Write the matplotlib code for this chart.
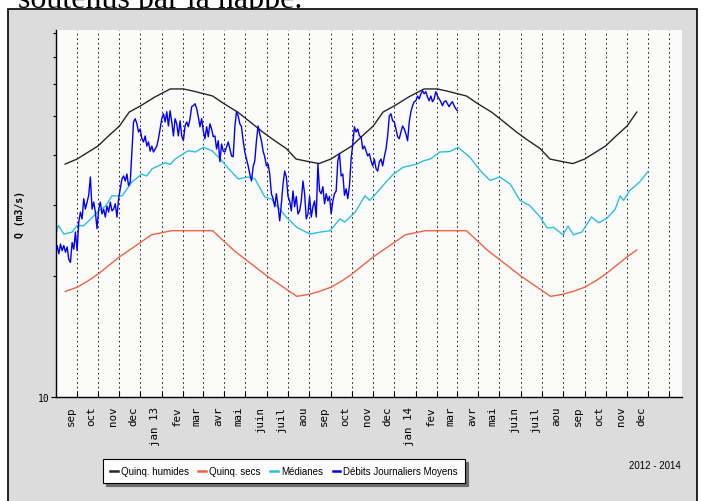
import matplotlib
matplotlib.use("Agg")
import matplotlib.pyplot as plt
import matplotlib.dates as mdates
from matplotlib.lines import Line2D
from matplotlib.patches import Rectangle
from matplotlib.ticker import FixedLocator, FixedFormatter, NullFormatter
from matplotlib.transforms import ScaledTranslation
import pandas as pd

# Quinquennales humides (m3/s)
humides_dates = [
    "2012-08-15", "2012-09-01", "2012-10-01", "2012-10-15", "2012-11-01", "2012-11-15",
    "2012-12-01", "2012-12-22", "2013-01-13", "2013-02-01", "2013-02-15", "2013-03-15",
    "2013-04-01", "2013-04-20", "2013-05-08", "2013-05-26", "2013-06-09", "2013-06-29",
    "2013-07-13", "2013-08-01", "2013-08-15", "2013-09-01", "2013-10-01", "2013-10-15",
    "2013-11-01", "2013-11-15", "2013-12-01", "2013-12-22", "2014-01-13", "2014-02-01",
    "2014-02-15", "2014-03-15", "2014-04-01", "2014-04-20", "2014-05-08", "2014-05-26",
    "2014-06-09", "2014-06-29", "2014-07-13", "2014-08-01", "2014-08-15", "2014-09-01",
    "2014-10-01", "2014-10-15", "2014-11-01", "2014-11-15",
]
humides_q = [
    37.9, 39.0, 42.0, 44.3, 47.1, 51.0,
    52.8, 55.6, 58.2, 58.2, 57.5, 55.9,
    53.4, 51.0, 48.2, 45.5, 43.7, 41.4,
    39.0, 38.4, 38.0, 39.0, 42.0, 44.3,
    47.1, 51.0, 52.8, 55.6, 58.2, 58.2,
    57.5, 55.9, 53.4, 51.0, 48.2, 45.5,
    43.7, 41.4, 39.0, 38.4, 38.0, 39.0,
    42.0, 44.3, 47.1, 51.0,
]

# Quinquennales seches (m3/s)
secs_dates = [
    "2012-08-15", "2012-09-01", "2012-09-16", "2012-10-01", "2012-11-01", "2012-12-01",
    "2012-12-17", "2013-01-15", "2013-03-15", "2013-04-15", "2013-05-01", "2013-06-01",
    "2013-07-14", "2013-07-31", "2013-08-15", "2013-09-01", "2013-09-16", "2013-10-01",
    "2013-11-01", "2013-12-01", "2013-12-17", "2014-01-15", "2014-03-15", "2014-04-15",
    "2014-05-01", "2014-06-01", "2014-07-14", "2014-07-31", "2014-08-15", "2014-09-01",
    "2014-09-16", "2014-10-01", "2014-11-01", "2014-11-15",
]
secs_q = [
    18.3, 18.75, 19.4, 20.2, 22.3, 24.2,
    25.3, 25.9, 25.9, 23.1, 22.0, 20.0,
    17.8, 18.0, 18.3, 18.75, 19.4, 20.2,
    22.3, 24.2, 25.3, 25.9, 25.9, 23.1,
    22.0, 20.0, 17.8, 18.0, 18.3, 18.75,
    19.4, 20.2, 22.3, 23.2,
]

# Medianes (m3/s)
medianes_dates = [
    "2012-08-01", "2012-08-05", "2012-08-13", "2012-08-25", "2012-09-01", "2012-09-10",
    "2012-09-18", "2012-10-02", "2012-10-12", "2012-10-21", "2012-11-05", "2012-11-12",
    "2012-11-19", "2012-12-03", "2012-12-10", "2012-12-18", "2013-01-06", "2013-01-13",
    "2013-01-20", "2013-02-01", "2013-02-08", "2013-02-18", "2013-03-02", "2013-03-14",
    "2013-03-26", "2013-04-07", "2013-04-21", "2013-05-05", "2013-05-15", "2013-05-29",
    "2013-06-08", "2013-06-15", "2013-06-29", "2013-07-14", "2013-08-02", "2013-08-17",
    "2013-08-31", "2013-09-14", "2013-09-21", "2013-10-06", "2013-10-20", "2013-10-27",
    "2013-11-11", "2013-11-20", "2013-11-30", "2013-12-14", "2014-01-03", "2014-01-12",
    "2014-01-22", "2014-02-05", "2014-02-19", "2014-03-03", "2014-03-20", "2014-04-04",
    "2014-04-18", "2014-05-02", "2014-05-17", "2014-05-31", "2014-06-14", "2014-06-29",
    "2014-07-09", "2014-07-18", "2014-08-01", "2014-08-08", "2014-08-16", "2014-08-28",
    "2014-09-11", "2014-09-21", "2014-10-03", "2014-10-15", "2014-10-22", "2014-10-27",
    "2014-11-05", "2014-11-19", "2014-12-01",
]
medianes_q = [
    25.3, 26.7, 25.4, 25.7, 26.7, 26.6,
    27.4, 29.0, 29.8, 31.6, 31.6, 32.9,
    34.2, 35.8, 35.4, 36.9, 38.2, 37.8,
    39.0, 40.2, 40.9, 40.6, 41.7, 40.9,
    39.0, 36.9, 34.8, 35.2, 34.8, 31.4,
    31.0, 29.9, 28.0, 26.4, 25.4, 25.7,
    25.9, 27.7, 27.2, 28.8, 31.6, 30.8,
    32.9, 34.3, 35.8, 37.2, 37.9, 38.6,
    39.0, 40.6, 40.7, 41.7, 39.4, 36.5,
    34.5, 35.2, 33.8, 30.8, 29.9, 28.0,
    26.3, 26.4, 25.3, 26.6, 25.3, 25.7,
    28.0, 27.1, 27.8, 29.3, 31.6, 30.8,
    32.6, 34.2, 36.3,
]

# Debits journaliers moyens (m3/s), du 01/08/2012 au 02/03/2014
debits_debut = "2012-08-01"
debits_fin = "2014-03-02"
debits_q = [
    22.9, 23.8, 22.7, 24.0, 23.1, 23.8, 22.9, 23.6, 22.0, 21.6,
    24.2, 23.3, 25.7, 23.1, 27.2, 28.8, 27.7, 31.1, 29.3, 30.5,
    31.7, 35.2, 29.3, 30.5, 28.8, 26.2, 29.3, 30.5, 28.5, 29.3,
    28.0, 29.8, 28.8, 30.5, 29.0, 29.3, 30.2, 28.0, 31.1, 32.9,
    34.8, 35.4, 34.4, 35.8, 33.5, 34.2, 40.6, 48.2, 49.1, 47.7,
    45.5, 46.3, 43.8, 43.0, 44.5, 42.0, 43.0, 40.8, 42.0, 40.6,
    41.3, 42.0, 43.8, 46.3, 49.1, 50.5, 48.2, 51.1, 47.1, 51.4,
    48.2, 44.5, 49.1, 47.7, 44.5, 48.5, 44.5, 43.3, 47.1, 48.2,
    46.9, 49.1, 52.6, 52.9, 53.5, 52.0,
    49.6, 46.9, 49.1, 45.8, 43.8, 46.9, 44.3, 47.7, 46.3, 44.3,
    44.5, 41.3, 43.3, 38.4, 42.5, 40.8, 40.6, 41.8, 43.0, 41.3,
    39.7, 39.5, 46.9, 51.1, 49.9, 47.7, 46.9, 43.3, 40.6, 39.0,
    37.5, 35.8, 34.4, 37.3, 38.6, 43.3, 47.1, 45.0, 43.3, 40.8,
    39.5, 37.5, 37.9, 35.8, 32.0, 31.1, 29.7, 32.0, 29.8, 27.4,
    30.2, 33.8, 36.4, 35.2, 31.5, 30.7, 29.0, 32.5, 29.7, 31.5,
    28.5, 29.0, 30.7, 34.4, 32.0, 27.7, 28.5, 31.5, 28.0, 29.7,
    30.7, 28.0, 37.9, 32.5, 32.0, 33.3, 30.2, 32.0, 30.7, 31.5,
    28.5, 30.7, 32.0, 32.5, 38.6, 40.2, 35.4, 35.8, 31.7, 32.9,
    31.1, 33.5, 39.0, 42.5,
    46.9, 45.5, 46.3, 44.5, 44.3, 41.3, 42.0, 40.8, 39.7, 40.2,
    38.6, 37.5, 39.0, 36.9, 36.4, 38.4, 39.0, 37.5, 39.5, 41.3,
    44.5, 49.9, 50.5, 48.5, 48.2, 46.3, 44.3, 43.8, 45.5, 47.1,
    46.3, 45.0, 43.3, 48.2, 51.1, 52.9, 54.1, 54.4, 55.9, 55.0,
    56.6, 57.6, 56.6, 57.3, 55.6, 54.4, 55.9, 54.1, 55.0, 57.3,
    55.9, 55.0, 54.1, 52.9, 54.1, 54.4, 53.5, 52.6, 53.5, 54.1,
    52.9, 52.0, 51.4,
]

# Axe des temps
mois_debut = "2012-09-01"
mois_fin = "2015-01-01"
mois_labels = [
    "sep", "oct", "nov", "dec", "jan 13", "fev", "mar", "avr", "mai", "juin", "juil", "aou",
    "sep", "oct", "nov", "dec", "jan 14", "fev", "mar", "avr", "mai", "juin", "juil", "aou",
    "sep", "oct", "nov", "dec", "",
]
y_mineurs = [20, 30, 40, 50, 60, 70, 80]

W, H = 704, 502
fig = plt.figure(figsize=(W / 100, H / 100), dpi=100)
fig.patch.set_facecolor("white")

# Texte coupe au dessus du cadre
fig.text(18 / W, 1 - 8 / H, "soutenus par la nappe.", family="Liberation Serif",
         fontsize=23, ha="left", va="baseline", zorder=-2)

# Cadre gris
cadre = Rectangle((8 / W, -0.05), (697 - 8) / W, 1.05 - 9.5 / H, transform=fig.transFigure,
                  facecolor="#dcdcdc", edgecolor="black", linewidth=1.2, zorder=-1)
fig.add_artist(cadre)

ax = fig.add_axes([55.5 / W, (H - 398.3) / H, (682 - 55.5) / W, (398.3 - 31) / H])
ax.set_facecolor("#fbfcfa")

d_hum = pd.to_datetime(humides_dates)
d_sec = pd.to_datetime(secs_dates)
d_med = pd.to_datetime(medianes_dates)
d_deb = pd.date_range(debits_debut, debits_fin, periods=len(debits_q))

c_hum, c_sec, c_med, c_deb = "#262626", "#f5603f", "#29c0ea", "#0000ff"
ax.plot(d_hum, humides_q, color=c_hum, lw=1.0)
ax.plot(d_sec, secs_q, color=c_sec, lw=1.0)
ax.plot(d_med, medianes_q, color=c_med, lw=1.0)
ax.plot(d_deb, debits_q, color=c_deb, lw=1.0)

ax.set_yscale("log")
ax.set_ylim(10, 81.5)
ax.set_xlim(pd.Timestamp("2012-08-01"), pd.Timestamp("2015-01-19"))

ax.yaxis.set_major_locator(FixedLocator([10]))
ax.yaxis.set_major_formatter(FixedFormatter(["10"]))
ax.yaxis.set_minor_locator(FixedLocator(y_mineurs))
ax.yaxis.set_minor_formatter(NullFormatter())
ax.tick_params(axis="y", which="major", direction="out", length=3.6, width=0.8, pad=1,
               labelsize=7)
ax.tick_params(axis="y", which="minor", direction="out", length=2.2, width=0.8)

mois = pd.date_range(mois_debut, mois_fin, freq="MS")
ax.xaxis.set_major_locator(FixedLocator(mdates.date2num(mois)))
ax.xaxis.set_major_formatter(FixedFormatter(mois_labels))
ax.xaxis.set_minor_locator(FixedLocator([]))
ax.tick_params(axis="x", which="major", direction="in", length=4, width=0.8, pad=6,
               labelsize=7.8, labelrotation=90)
for lab in ax.get_xticklabels() + ax.get_yticklabels():
    lab.set_family("DejaVu Sans Mono")
decal = ScaledTranslation(-6.5 / 100, 0, fig.dpi_scale_trans)
for lab in ax.get_xticklabels():
    lab.set_transform(lab.get_transform() + decal)

ax.grid(axis="x", which="major", color="black", linestyle=(0, (2, 3.5)), linewidth=0.6)
ax.set_axisbelow(True)

for s in ["top", "right"]:
    ax.spines[s].set_visible(False)
for s in ["left", "bottom"]:
    ax.spines[s].set_linewidth(1.0)
    ax.spines[s].set_color("black")

ax.set_ylabel("Q (m3/s)", family="DejaVu Sans Mono", fontweight="bold", fontsize=7)
ax.yaxis.set_label_coords(-0.048, 0.5)

# Legende
police_leg = {"family": "Liberation Sans", "size": 7}
poignees = [Line2D([], [], color=c, lw=1.8) for c in (c_hum, c_sec, c_med, c_deb)]
noms = ["Quinq. humides", "Quinq. secs", "Médianes", "Débits Journaliers Moyens"]
leg = ax.legend(poignees, noms, loc="center", bbox_to_anchor=(284 / W, 1 - 472 / H),
                bbox_transform=fig.transFigure, ncol=4, fancybox=False,
                shadow={"color": "#6e6e6e", "alpha": 1}, framealpha=1,
                edgecolor="black", handlelength=0.8, handletextpad=0.3,
                columnspacing=1.0, borderpad=0.7, prop=police_leg)
leg.get_frame().set_linewidth(0.8)

fig.text(655 / W, 1 - 466 / H, "2012 - 2014", family="Liberation Sans",
         fontsize=7, ha="center", va="center")

fig.savefig("out.png", dpi=100)
